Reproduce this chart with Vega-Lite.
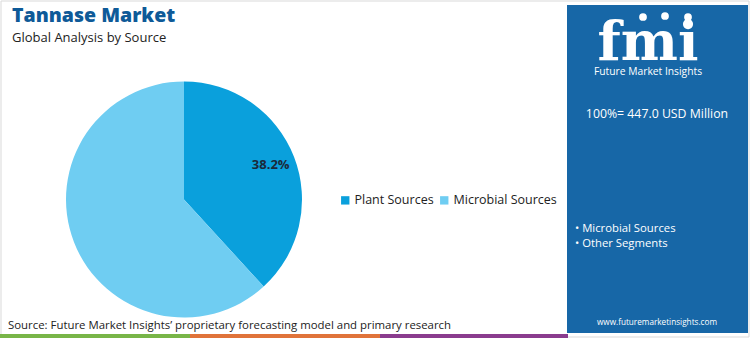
{
  "$schema": "https://vega.github.io/schema/vega-lite/v6.json",
  "width": 750,
  "height": 338,
  "padding": 0,
  "autosize": {"type": "none"},
  "background": "#ffffff",
  "config": {"view": {"stroke": null}, "font": "Open Sans"},
  "data": {"values": [
    {"source": "Plant Sources", "share": 38.2, "order": 1, "label": "38.2%"},
    {"source": "Microbial Sources", "share": 61.8, "order": 2, "label": ""}
  ]},
  "layer": [
    {
      "data": {"values": [{}]},
      "mark": {"type": "rect", "x": 1, "y": 1, "x2": 749, "y2": 337, "fill": null, "stroke": "#d9d9d9", "strokeWidth": 1},
      "encoding": {}
    },
    {
      "mark": {"type": "arc", "x": 184, "y": 199.5, "outerRadius": 118},
      "encoding": {
        "theta": {"field": "share", "type": "quantitative", "stack": true},
        "order": {"field": "order", "type": "quantitative"},
        "color": {
          "field": "source", "type": "nominal",
          "scale": {"domain": ["Plant Sources", "Microbial Sources"], "range": ["#0aa0dc", "#6fcdf2"]},
          "legend": {
            "orient": "none", "legendX": 339, "legendY": 194, "direction": "horizontal", "title": null,
            "symbolType": "square", "symbolSize": 70, "symbolStrokeWidth": 0,
            "labelFont": "Open Sans", "labelFontSize": 12.5, "labelColor": "#222222", "columnPadding": 4, "labelOffset": 3
          }
        }
      }
    },
    {
      "mark": {"type": "text", "x": 184, "y": 199.5, "radius": 93, "font": "Open Sans", "fontWeight": "bold", "fontSize": 13, "color": "#1b2a3a", "dy": -1},
      "encoding": {
        "theta": {"field": "share", "type": "quantitative", "stack": true},
        "order": {"field": "order", "type": "quantitative"},
        "text": {"field": "label", "type": "nominal"}
      }
    },
    {
      "data": {"values": [{"t": "Tannase Market"}]},
      "mark": {"type": "text", "x": 12, "y": 22, "align": "left", "baseline": "alphabetic", "font": "Open Sans", "fontWeight": 800, "fontSize": 19.5, "color": "#0e5a98"},
      "encoding": {"text": {"field": "t"}}
    },
    {
      "data": {"values": [{"t": "Global Analysis by Source"}]},
      "mark": {"type": "text", "x": 12, "y": 41.5, "align": "left", "baseline": "alphabetic", "font": "Open Sans", "fontSize": 13, "color": "#222222"},
      "encoding": {"text": {"field": "t"}}
    },
    {
      "data": {"values": [{}]},
      "mark": {"type": "rule", "x": 5, "x2": 566, "y": 66.5, "y2": 66.5, "stroke": "#2c79b8", "strokeWidth": 1.5},
      "encoding": {}
    },
    {
      "data": {"values": [{"t": "Source: Future Market Insights\u2019 proprietary forecasting model and primary research"}]},
      "mark": {"type": "text", "x": 8, "y": 326, "align": "left", "baseline": "middle", "font": "Open Sans", "fontSize": 11.4, "color": "#222222"},
      "encoding": {"text": {"field": "t"}}
    },
    {
      "data": {"values": [{}]},
      "mark": {"type": "rect", "x": 0, "x2": 190, "y": 334, "y2": 338, "fill": "#78b548"},
      "encoding": {}
    },
    {
      "data": {"values": [{}]},
      "mark": {"type": "rect", "x": 190, "x2": 380, "y": 334, "y2": 338, "fill": "#e0733a"},
      "encoding": {}
    },
    {
      "data": {"values": [{}]},
      "mark": {"type": "rect", "x": 380, "x2": 568, "y": 334, "y2": 338, "fill": "#8a3c8e"},
      "encoding": {}
    },
    {
      "data": {"values": [{}]},
      "mark": {"type": "rect", "x": 567, "x2": 748, "y": 5, "y2": 333, "fill": "#1767a7"},
      "encoding": {}
    },
    {
      "data": {"values": [{"t": "fmi"}]},
      "mark": {"type": "text", "x": 648, "y": 60, "align": "center", "baseline": "alphabetic", "font": "DejaVu Serif", "fontWeight": "bold", "fontSize": 54, "color": "#ffffff"},
      "encoding": {"text": {"field": "t"}}
    },
    {
      "data": {"values": [{}]},
      "mark": {"type": "point", "x": 643, "y": 17, "shape": "circle", "size": 60, "filled": true, "color": "#ffffff", "opacity": 1},
      "encoding": {}
    },
    {
      "data": {"values": [{}]},
      "mark": {"type": "point", "x": 665, "y": 16, "shape": "circle", "size": 60, "filled": true, "color": "#ffffff", "opacity": 1},
      "encoding": {}
    },
    {
      "data": {"values": [{}]},
      "mark": {"type": "point", "x": 688, "y": 17, "shape": "circle", "size": 60, "filled": true, "color": "#ffffff", "opacity": 1},
      "encoding": {}
    },
    {
      "data": {"values": [{"t": "Future Market Insights"}]},
      "mark": {"type": "text", "x": 648, "y": 72, "align": "center", "baseline": "middle", "font": "Open Sans", "fontSize": 10.3, "color": "#ffffff"},
      "encoding": {"text": {"field": "t"}}
    },
    {
      "data": {"values": [{"t": "100%= 447.0 USD Million"}]},
      "mark": {"type": "text", "x": 657, "y": 114, "align": "center", "baseline": "middle", "font": "Open Sans", "fontSize": 12.3, "color": "#ffffff"},
      "encoding": {"text": {"field": "t"}}
    },
    {
      "data": {"values": [{}]},
      "mark": {"type": "rule", "x": 577, "x2": 737, "y": 155.5, "y2": 155.5, "stroke": "#8fc3e6", "strokeWidth": 1.5},
      "encoding": {}
    },
    {
      "data": {"values": [{"t": "\u2022 Microbial Sources"}]},
      "mark": {"type": "text", "x": 575, "y": 229, "align": "left", "baseline": "middle", "font": "Open Sans", "fontSize": 11.3, "color": "#ffffff"},
      "encoding": {"text": {"field": "t"}}
    },
    {
      "data": {"values": [{"t": "\u2022 Other Segments"}]},
      "mark": {"type": "text", "x": 575, "y": 244, "align": "left", "baseline": "middle", "font": "Open Sans", "fontSize": 11.3, "color": "#ffffff"},
      "encoding": {"text": {"field": "t"}}
    },
    {
      "data": {"values": [{"t": "www.futuremarketinsights.com"}]},
      "mark": {"type": "text", "x": 657, "y": 323, "align": "center", "baseline": "middle", "font": "Open Sans", "fontSize": 8.2, "color": "#ffffff"},
      "encoding": {"text": {"field": "t"}}
    }
  ]
}
